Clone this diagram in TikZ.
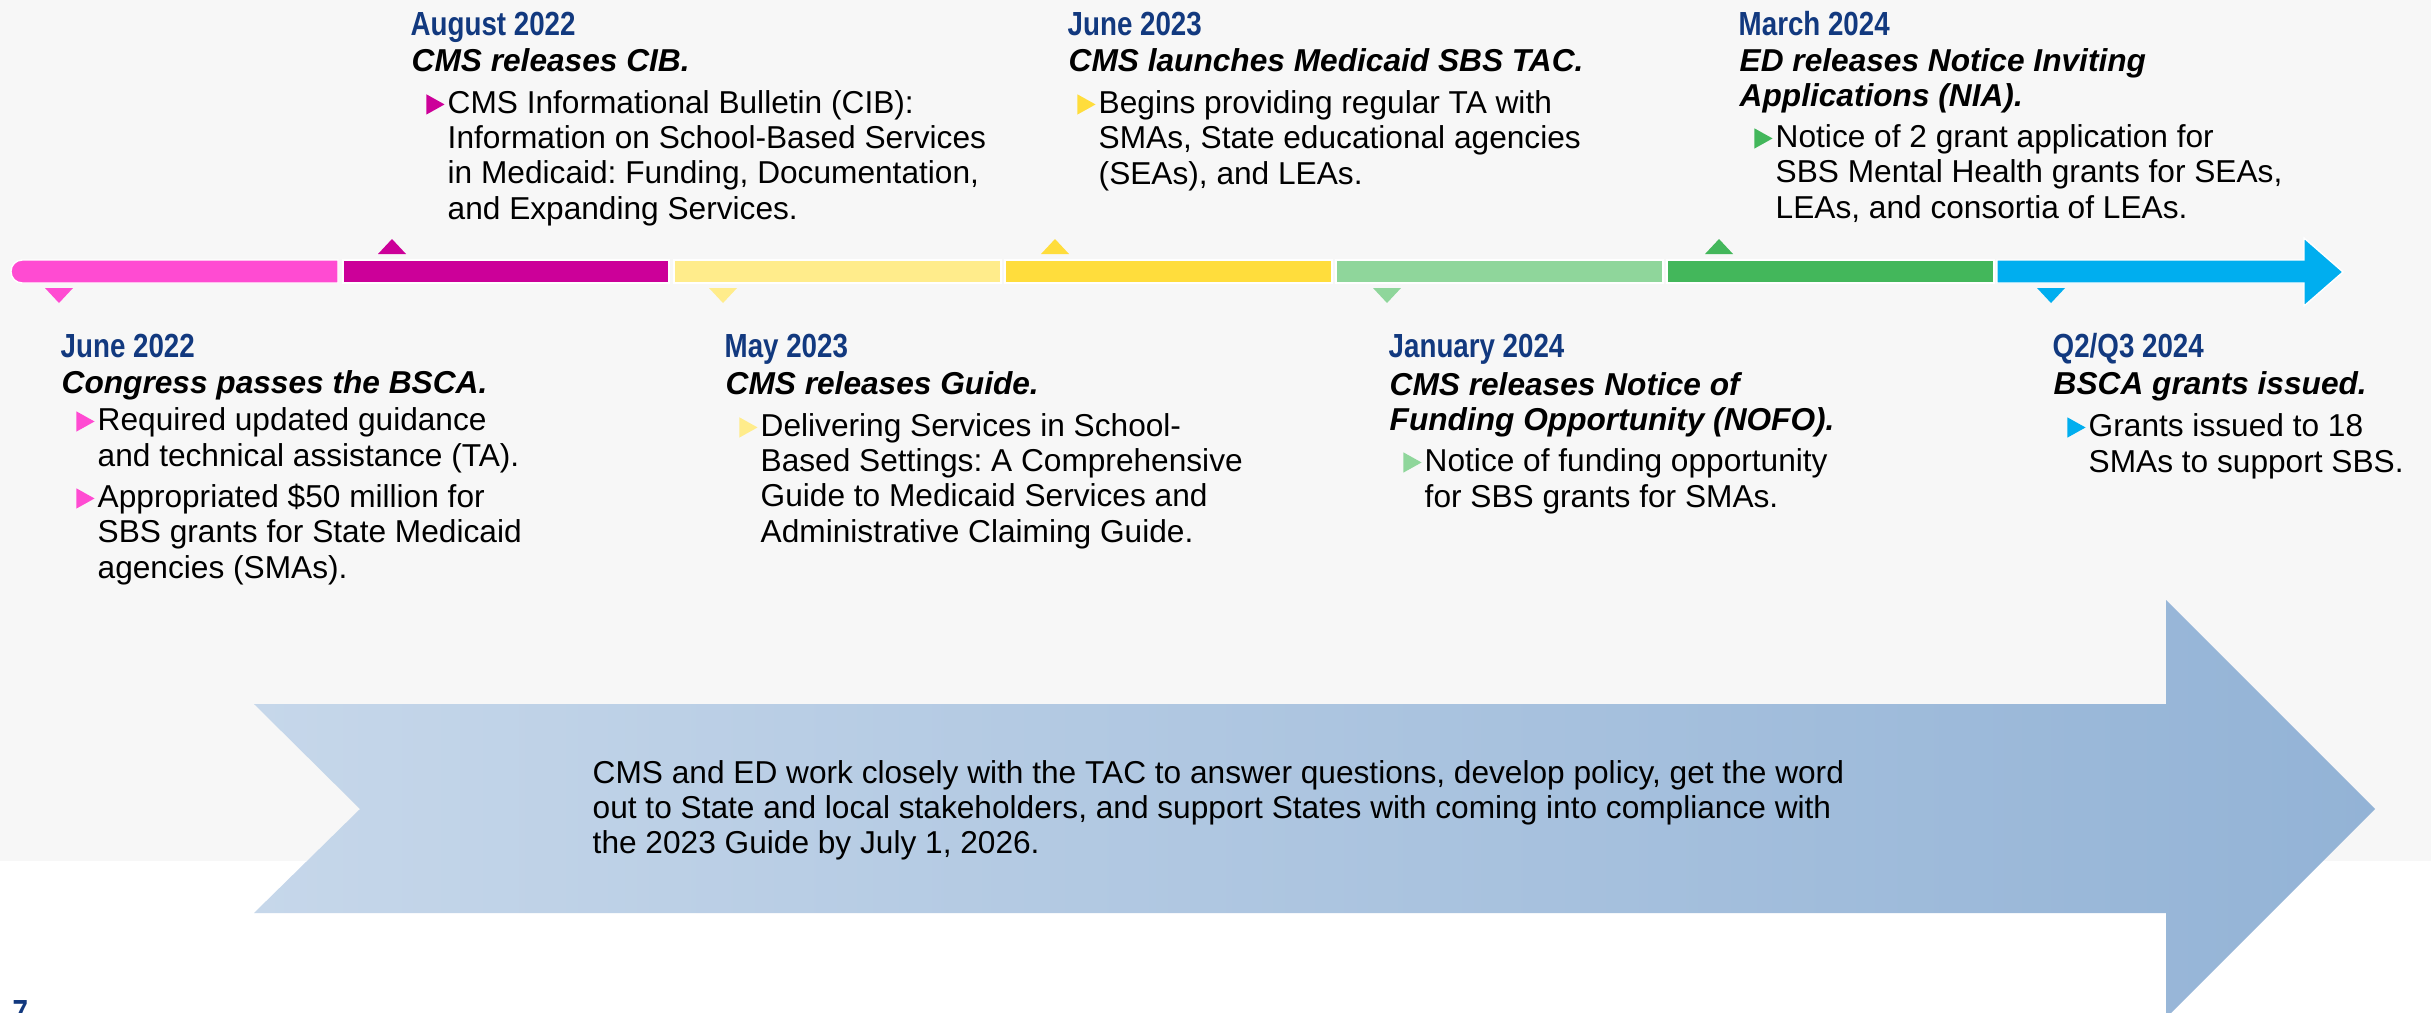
\documentclass[tikz,border=0pt]{standalone}
\usepackage{fontspec}
\setmainfont{Liberation Sans}
\newfontfamily\narrowfont[FakeStretch=0.83]{Liberation Sans}
\usepackage{xcolor}
\frenchspacing

\definecolor{bgGray}{HTML}{F7F7F7}
\definecolor{dateBlue}{HTML}{12397F}
\definecolor{pinkA}{HTML}{FF4BD2}
\definecolor{magentaA}{HTML}{CC0099}
\definecolor{yellowA}{HTML}{FFEC8B}
\definecolor{yellowB}{HTML}{FFDD3C}
\definecolor{greenA}{HTML}{8FD69B}
\definecolor{greenB}{HTML}{43B75B}
\definecolor{blueA}{HTML}{00AEEF}
\definecolor{arrowL}{HTML}{C6D7EA}
\definecolor{arrowR}{HTML}{93B3D6}

% bullet triangle hanging left of an item
\newcommand{\bul}[1]{\llap{\tikz[baseline=0pt]\fill[#1] (0pt,-0.2pt) -- (0pt,5.6pt) -- (5.2pt,2.7pt) -- cycle;\hspace{0.9pt}}}

\tikzset{
    datetxt/.style={anchor=base west, inner sep=0pt, text=dateBlue, font=\narrowfont\bfseries\fontsize{9.5}{11}\selectfont},
    headtxt/.style={anchor=base west, inner sep=0pt, align=left, font=\bfseries\itshape\fontsize{9}{9.8}\selectfont},
    itemtxt/.style={anchor=base west, inner sep=0pt, align=left, font=\fontsize{9}{9.96}\selectfont},
    segbox/.style={draw=white, line width=0.4pt}
}

\begin{document}
\begin{tikzpicture}[x=0.01cm, y=-0.01cm]
    % Page
    \useasboundingbox (0,0) rectangle (2431,1012);
    \fill[white] (0,0) rectangle (2431,1012);
    \fill[bgGray] (0,0) rectangle (2431,861);

    % Big arrow
    \shade[left color=arrowL, right color=arrowR] (254,704) -- (2166,704) -- (2166,600) -- (2375,809)
        -- (2166,1018) -- (2166,913) -- (254,913) -- (360,809) -- cycle;
    \node[itemtxt, anchor=west] (tacnote) at (592,810)
        {CMS and ED work closely with the TAC to answer questions, develop policy, get the word\\
         out to State and local stakeholders, and support States with coming into compliance with\\
         the 2023 Guide by July 1, 2026.};

    % Timeline bar
    \filldraw[segbox, fill=pinkA] (338,260) {[rounded corners=3.2pt] -- (11,260) -- (11,283)} -- (338,283) -- cycle;
    \filldraw[segbox, fill=magentaA] (343,260) rectangle (669,283);
    \filldraw[segbox, fill=yellowA] (674,260) rectangle (1001,283);
    \filldraw[segbox, fill=yellowB] (1005,260) rectangle (1332,283);
    \filldraw[segbox, fill=greenA] (1336,260) rectangle (1663,283);
    \filldraw[segbox, fill=greenB] (1667,260) rectangle (1994,283);
    \filldraw[segbox, fill=blueA] (1997,260) -- (2304,260) -- (2304,238) -- (2343,272)
        -- (2304,306) -- (2304,283) -- (1997,283) -- cycle;

    % Markers
    \fill[pinkA] (45,288) -- (73,288) -- (59,303) -- cycle;
    \fill[magentaA] (378,254) -- (406,254) -- (392,239) -- cycle;
    \fill[yellowA] (709,288) -- (737,288) -- (723,303) -- cycle;
    \fill[yellowB] (1041,254) -- (1069,254) -- (1055,239) -- cycle;
    \fill[greenA] (1373,288) -- (1401,288) -- (1387,303) -- cycle;
    \fill[greenB] (1705,254) -- (1733,254) -- (1719,239) -- cycle;
    \fill[blueA] (2037,288) -- (2065,288) -- (2051,303) -- cycle;

    % June 2022 (multi-line nodes sit on their last baseline)
    \node[datetxt] (jun22date) at (60,357) {June 2022};
    \node[headtxt] (jun22head) at (61,393) {Congress passes the BSCA.};
    \node[itemtxt] (jun22a) at (97,466) {\bul{pinkA}Required updated guidance\\and technical assistance (TA).};
    \node[itemtxt] (jun22b) at (97,578) {\bul{pinkA}Appropriated \$50 million for\\SBS grants for State Medicaid\\agencies (SMAs).};

    % August 2022
    \node[datetxt] (aug22date) at (410,35) {August 2022};
    \node[headtxt] (aug22head) at (411,71) {CMS releases CIB.};
    \node[itemtxt] (aug22a) at (447,219) {\bul{magentaA}CMS Informational Bulletin (CIB):\\Information on School-Based Services\\in Medicaid: Funding, Documentation,\\and Expanding Services.};

    % May 2023
    \node[datetxt] (may23date) at (724,357) {May 2023};
    \node[headtxt] (may23head) at (725,394) {CMS releases Guide.};
    \node[itemtxt] (may23a) at (760,542) {\bul{yellowA}Delivering Services in School-\\Based Settings: A Comprehensive\\Guide to Medicaid Services and\\Administrative Claiming Guide.};

    % June 2023
    \node[datetxt] (jun23date) at (1067,35) {June 2023};
    \node[headtxt] (jun23head) at (1068,71) {CMS launches Medicaid SBS TAC.};
    \node[itemtxt] (jun23a) at (1098,184) {\bul{yellowB}Begins providing regular TA with\\SMAs, State educational agencies\\(SEAs), and LEAs.};

    % January 2024
    \node[datetxt] (jan24date) at (1388,357) {January 2024};
    \node[headtxt] (jan24head) at (1389,430) {CMS releases Notice of\\Funding Opportunity (NOFO).};
    \node[itemtxt] (jan24a) at (1424,507) {\bul{greenA}Notice of funding opportunity\\for SBS grants for SMAs.};

    % March 2024
    \node[datetxt] (mar24date) at (1738,35) {March 2024};
    \node[headtxt] (mar24head) at (1739,106) {ED releases Notice Inviting\\Applications (NIA).};
    \node[itemtxt] (mar24a) at (1775,218) {\bul{greenB}Notice of 2 grant application for\\SBS Mental Health grants for SEAs,\\LEAs, and consortia of LEAs.};

    % Q2/Q3 2024
    \node[datetxt] (q3date) at (2052,357) {Q2/Q3 2024};
    \node[headtxt] (q3head) at (2053,394) {BSCA grants issued.};
    \node[itemtxt] (q3a) at (2088,472) {\bul{blueA}Grants issued to 18\\SMAs to support SBS.};

    % Page number
    \node[datetxt, anchor=north west] (pgnum) at (12,1000) {7};
\end{tikzpicture}
\end{document}
